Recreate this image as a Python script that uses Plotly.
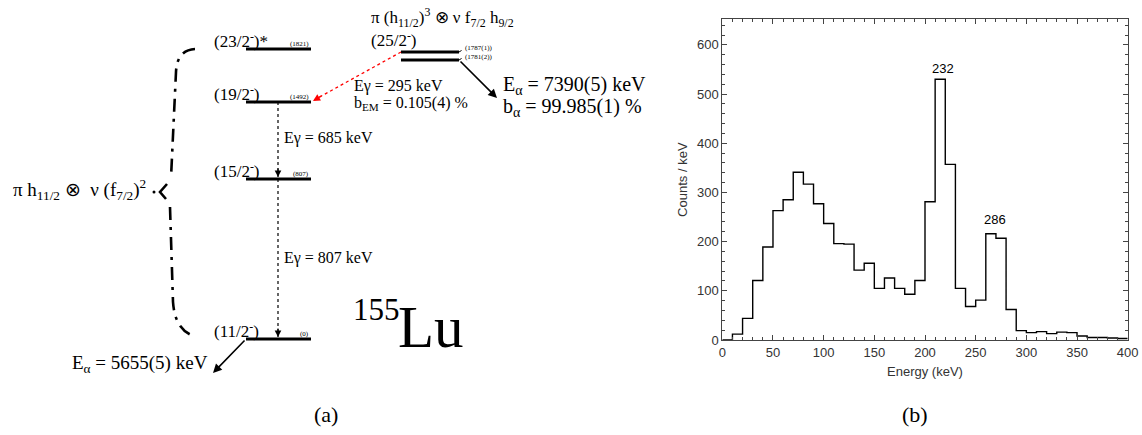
import plotly.graph_objects as go

# ---------------- (b) alpha-gated energy spectrum ----------------
bin_width = 10
bin_low = list(range(0, 400, bin_width))
counts = [0, 12, 44, 121, 189, 263, 285, 341, 317, 277,
          237, 196, 195, 142, 156, 105, 126, 105, 93, 121,
          281, 530, 357, 105, 68, 81, 216, 207, 62, 19,
          15, 17, 13, 16, 15, 8, 5, 5, 4, 3]
peak_energies = ["232", "286"]
peak_label_x = [218, 269]
peak_label_y = [553, 244]

# ---------------- (a) level scheme of 155Lu ----------------
level_spins = ["(11/2<sup>-</sup>)", "(15/2<sup>-</sup>)", "(19/2<sup>-</sup>)", "(23/2<sup>-</sup>)*"]
level_energies = [0, 807, 1492, 1821]
isomer_spin = "(25/2<sup>-</sup>)"
isomer_energies = ["1787(1)", "1781(2)"]
gamma_energies = [685, 807]
gamma_em = 295
b_em = "0.105(4)"
alpha_high = "7390(5)"
b_alpha = "99.985(1)"
alpha_ground = "5655(5)"

# schematic drawing positions (figure pixels) of the levels
lvl_y = [339, 179, 102, 49]
lvl_x0, lvl_x1 = 246, 311
iso_y = [52, 60]
iso_x0, iso_x1 = 401, 459
gam_x = 278

serif = "Liberation Serif"
sans = "Liberation Sans"
W, H = 1142, 435

fig = go.Figure()

# histogram as a step line
xs = bin_low + [bin_low[-1] + bin_width]
ys = counts + [counts[-1]]
fig.add_trace(go.Scatter(x=xs, y=ys, mode="lines", line=dict(shape="hv", color="black", width=1.4),
                         hoverinfo="skip", showlegend=False, xaxis="x", yaxis="y"))

# levels as thick horizontal bars
lx, ly = [], []
for y in lvl_y:
    lx += [lvl_x0, lvl_x1, None]
    ly += [y, y, None]
for y in iso_y:
    lx += [iso_x0, iso_x1, None]
    ly += [y, y, None]
fig.add_trace(go.Scatter(x=lx, y=ly, mode="lines", line=dict(color="black", width=3),
                         hoverinfo="skip", showlegend=False, xaxis="x2", yaxis="y2"))

shapes = []
ann = []

def txt(x, y, s, size, xanchor="left", yanchor="middle", font=serif, ref="2", color="black"):
    ann.append(dict(x=x, y=y, xref="x" + ref, yref="y" + ref, text=s, showarrow=False,
                    xanchor=xanchor, yanchor=yanchor, font=dict(family=font, size=size, color=color)))

def arrow(x, y, ax, ay, color="black", width=1.5, head=2, size=1.0):
    ann.append(dict(x=x, y=y, ax=ax, ay=ay, xref="x2", yref="y2", axref="x2", ayref="y2",
                    text="", showarrow=True, arrowhead=head, arrowsize=size, arrowwidth=width,
                    arrowcolor=color, standoff=0, startstandoff=0))

# level labels
for spin, e, y in zip(level_spins, level_energies, lvl_y):
    txt(212, y - 9, spin, 17)
    txt(lvl_x1, y - 5, f"({e})", 7, xanchor="right")

txt(369, 39, isomer_spin, 17)
txt(369, 17, "π (h<sub>11/2</sub>)<sup>3</sup> ⊗ ν f<sub>7/2</sub> h<sub>9/2</sub>", 17)
for lab, y in zip(isomer_energies, [48, 57]):
    txt(463, y, f"({lab})", 7)
shapes.append(dict(type="line", xref="x2", yref="y2", x0=iso_x1, y0=iso_y[0], x1=464, y1=49,
                   line=dict(color="black", width=1, dash="dot")))
shapes.append(dict(type="line", xref="x2", yref="y2", x0=iso_x1, y0=iso_y[1], x1=464, y1=57,
                   line=dict(color="black", width=1, dash="dot")))

# gamma transitions (dotted)
for (ytop, ybot), eg, ylab in zip([(lvl_y[2], lvl_y[1]), (lvl_y[1], lvl_y[0])], gamma_energies, [138, 258]):
    shapes.append(dict(type="line", xref="x2", yref="y2", x0=gam_x, y0=ytop, x1=gam_x, y1=ybot - 2,
                       line=dict(color="black", width=1.2, dash="dot")))
    arrow(gam_x, ybot - 2, gam_x, ybot - 12, width=1.2, head=2, size=1.1)
    txt(282, ylab, f"Eγ = {eg} keV", 16)

# weak electromagnetic branch (red dotted)
shapes.append(dict(type="line", xref="x2", yref="y2", x0=iso_x0, y0=iso_y[0], x1=316, y1=99,
                   line=dict(color="red", width=1.3, dash="dot")))
arrow(313, 101, 323, 95, color="red", width=1.3, head=2, size=1.1)
txt(352, 86, f"Eγ = {gamma_em} keV", 16)
txt(352, 103, f"b<sub>EM</sub> = {b_em} %", 16)

# alpha decays
arrow(497, 98, iso_x1, iso_y[1], width=1.6, head=2, size=1.1)
txt(501, 85, f"E<sub>α</sub> = {alpha_high} keV", 20)
txt(501, 107, f"b<sub>α</sub> = {b_alpha} %", 20)
arrow(213, 373, lvl_x0, lvl_y[0], width=1.6, head=2, size=1.1)
txt(210, 364, f"E<sub>α</sub> = {alpha_ground} keV", 19, xanchor="right")

# configuration brace (dash-dot)
brace_dash = "13px,7px,3px,7px"
shapes.append(dict(type="path", xref="x2", yref="y2",
                   path="M 195,49 Q 177,50 176,72 L 171,178",
                   line=dict(color="black", width=2.6, dash=brace_dash)))
shapes.append(dict(type="path", xref="x2", yref="y2",
                   path="M 167,184 L 160,192 L 166,199",
                   line=dict(color="black", width=2.6)))
shapes.append(dict(type="path", xref="x2", yref="y2",
                   path="M 170,207 L 173,302 Q 175,330 194,336",
                   line=dict(color="black", width=2.6, dash=brace_dash)))
shapes.append(dict(type="circle", xref="x2", yref="y2", x0=152.5, y0=190.5, x1=155.5, y1=193.5,
                   fillcolor="black", line=dict(width=0)))
txt(11, 189, "π h<sub>11/2</sub> ⊗  ν (f<sub>7/2</sub>)<sup>2</sup>", 19)

# nucleus name
txt(351, 309, "155", 31)
txt(396, 327, "Lu", 59)

# panel tags
txt(326, 414, "(a)", 22, xanchor="center")
txt(915, 414, "(b)", 22, xanchor="center")

# peak labels in the spectrum
for s, px, py in zip(peak_energies, peak_label_x, peak_label_y):
    ann.append(dict(x=px, y=py, xref="x", yref="y", text=s, showarrow=False,
                    font=dict(family=sans, size=13, color="black")))

axis_common = dict(showline=True, linecolor="#444", linewidth=1, mirror="ticks", ticks="inside",
                   ticklen=5, tickcolor="#444", showgrid=False, zeroline=False, automargin=False,
                   tickfont=dict(family=sans, size=13, color="#333"))

fig.update_layout(
    width=W, height=H, margin=dict(l=0, r=0, t=0, b=0),
    paper_bgcolor="white", plot_bgcolor="rgba(0,0,0,0)",
    xaxis=dict(domain=[722.3 / W, 1127.7 / W], range=[0, 400], dtick=50, tick0=0,
               minor=dict(dtick=10, ticks="inside", ticklen=3, tickcolor="#444"),
               title=dict(text="Energy (keV)", font=dict(family=sans, size=13, color="#333"), standoff=8),
               anchor="y", **axis_common),
    yaxis=dict(domain=[(H - 340) / H, (H - 19.3) / H], range=[0, 652], dtick=100, tick0=0,
               minor=dict(dtick=20, ticks="inside", ticklen=3, tickcolor="#444"),
               title=dict(text="Counts / keV", font=dict(family=sans, size=13, color="#333"), standoff=6),
               anchor="x", **axis_common),
    xaxis2=dict(domain=[0, 1], range=[0, W], visible=False, fixedrange=True, anchor="y2"),
    yaxis2=dict(domain=[0, 1], range=[H, 0], visible=False, fixedrange=True, anchor="x2"),
    shapes=shapes, annotations=ann,
)

fig.write_html("out.html")
